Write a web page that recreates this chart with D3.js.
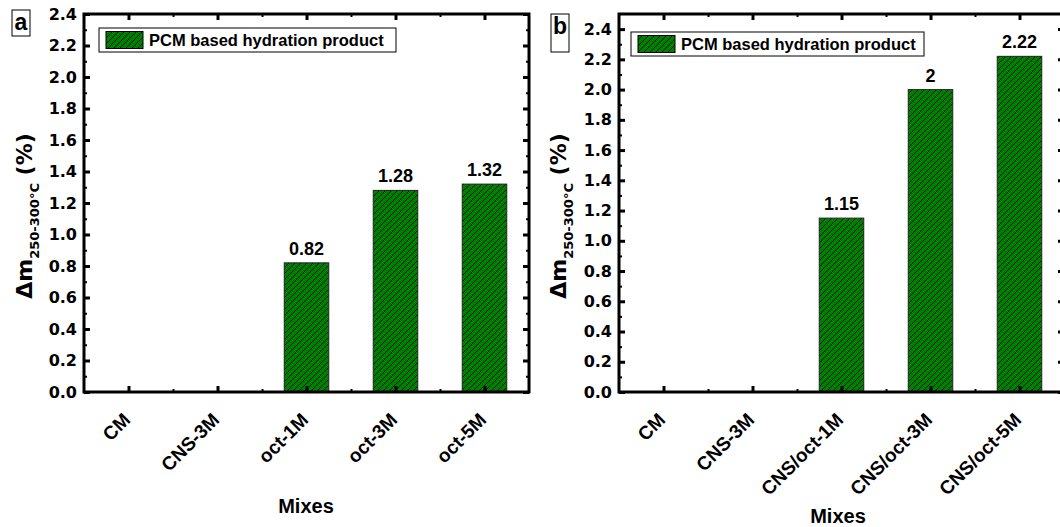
<!DOCTYPE html>
<html>
<head>
<meta charset="utf-8">
<script src="https://cdn.jsdelivr.net/npm/d3@7"></script>
<style>
  body { margin: 0; background: #fff; }
  svg { display: block; }
</style>
</head>
<body>
<div id="chart"></div>
<script>
// datos de cada panel
const mixesA = ["CM", "CNS-3M", "oct-1M", "oct-3M", "oct-5M"];
const valuesA = [0, 0, 0.82, 1.28, 1.32];
const barLabelsA = ["", "", "0.82", "1.28", "1.32"];

const mixesB = ["CM", "CNS-3M", "CNS/oct-1M", "CNS/oct-3M", "CNS/oct-5M"];
const valuesB = [0, 0, 1.15, 2, 2.22];
const barLabelsB = ["", "", "1.15", "2", "2.22"];

const yTickValues = [0, 0.2, 0.4, 0.6, 0.8, 1.0, 1.2, 1.4, 1.6, 1.8, 2.0, 2.2, 2.4];
const yTickLabels = ["0.0", "0.2", "0.4", "0.6", "0.8", "1.0", "1.2", "1.4", "1.6", "1.8", "2.0", "2.2", "2.4"];
const yMinorValues = [0.1, 0.3, 0.5, 0.7, 0.9, 1.1, 1.3, 1.5, 1.7, 1.9, 2.1, 2.3];

const seriesName = "PCM based hydration product";
const xTitle = "Mixes";

const arial = "'Liberation Sans', Arial, sans-serif";
const dejavu = "'DejaVu Sans', sans-serif";

let svg = d3.select("#chart").append("svg")
    .attr("width", 1060)
    .attr("height", 527);

// patron rayado de las barras
let pat = svg.append("defs").append("pattern")
    .attr("id", "hatch")
    .attr("patternUnits", "userSpaceOnUse")
    .attr("width", 6)
    .attr("height", 6);
pat.append("rect").attr("width", 6).attr("height", 6).attr("fill", "#007f00");
pat.append("path")
    .attr("d", "M-1,1 l2,-2 M0,6 l6,-6 M5,7 l2,-2")
    .attr("stroke", "#000")
    .attr("stroke-width", 0.8);

function drawPanel(p) {
    let x = d3.scaleBand().domain(p.mixes).range([p.x0, p.x1])
        .paddingInner(0.5).paddingOuter(0.25);
    let y = d3.scaleLinear().domain([0, p.yMax]).range([p.y1, p.y0]);
    let g = svg.append("g");
    let bw = x.bandwidth();
    let rows = p.values.map((v, i) => ({mix: p.mixes[i], v: v, label: p.labels[i]}));

    // barras
    g.selectAll(".bar")
        .data(rows.filter(d => d.v > 0))
        .enter().append("rect")
        .attr("x", d => x(d.mix))
        .attr("y", d => y(d.v))
        .attr("width", bw)
        .attr("height", d => y(0) - y(d.v))
        .attr("fill", "url(#hatch)")
        .attr("stroke", "#222")
        .attr("stroke-width", 1);

    // etiquetas de valor
    g.selectAll(".vlabel")
        .data(rows.filter(d => d.label !== ""))
        .enter().append("text")
        .attr("x", d => x(d.mix) + bw / 2)
        .attr("y", d => y(d.v) - 8)
        .attr("text-anchor", "middle")
        .style("font", "bold 18px " + arial)
        .text(d => d.label);

    // eje y izquierdo
    let left = g.append("g")
        .attr("transform", "translate(" + p.x0 + ",0)")
        .call(d3.axisLeft(y).tickValues(yTickValues).tickSize(-6).tickPadding(7)
            .tickFormat((d, i) => yTickLabels[i]));
    left.selectAll("text").style("font", "bold 16px " + dejavu).attr("fill", "#000");
    left.selectAll(".tick line").attr("stroke-width", 3);
    g.append("g")
        .attr("transform", "translate(" + p.x0 + ",0)")
        .call(d3.axisLeft(y).tickValues(yMinorValues).tickSize(-3).tickFormat(""))
        .selectAll(".tick line").attr("stroke-width", 2);

    // eje y derecho (solo marcas)
    g.append("g")
        .attr("transform", "translate(" + p.x1 + ",0)")
        .call(d3.axisRight(y).tickValues(yTickValues).tickSize(-6).tickFormat(""))
        .selectAll(".tick line").attr("stroke-width", 3);
    g.append("g")
        .attr("transform", "translate(" + p.x1 + ",0)")
        .call(d3.axisRight(y).tickValues(yMinorValues).tickSize(-3).tickFormat(""))
        .selectAll(".tick line").attr("stroke-width", 2);

    // ejes x abajo y arriba
    let centers = p.mixes.map(m => x(m) + bw / 2);
    let minors = centers.slice(1).map((c, i) => (c + centers[i]) / 2);
    let xt = d3.scaleLinear().domain([p.x0, p.x1]).range([p.x0, p.x1]);
    [[p.y1, d3.axisBottom], [p.y0, d3.axisTop]].forEach(function(a) {
        g.append("g").attr("transform", "translate(0," + a[0] + ")")
            .call(a[1](xt).tickValues(centers).tickSize(-6).tickFormat(""))
            .selectAll(".tick line").attr("stroke-width", 3);
        g.append("g").attr("transform", "translate(0," + a[0] + ")")
            .call(a[1](xt).tickValues(minors).tickSize(-3).tickFormat(""))
            .selectAll(".tick line").attr("stroke-width", 2);
    });

    g.selectAll(".domain").remove();
    g.selectAll(".tick line").attr("stroke", "#000");

    // marco
    g.append("rect")
        .attr("x", p.x0).attr("y", p.y0)
        .attr("width", p.x1 - p.x0).attr("height", p.y1 - p.y0)
        .attr("fill", "none").attr("stroke", "#000").attr("stroke-width", 3);

    // etiquetas x giradas
    g.selectAll(".xlabel")
        .data(p.mixes)
        .enter().append("text")
        .attr("transform", d => "translate(" + (x(d) + bw / 2 + 3) + "," + 421 + ") rotate(-45)")
        .attr("text-anchor", "end")
        .style("font", "bold 19px " + arial)
        .text(d => d);

    g.append("text")
        .attr("x", p.xTitleX).attr("y", p.xTitleY)
        .attr("text-anchor", "middle")
        .style("font", "bold 20px " + arial)
        .text(xTitle);

    // titulo eje y
    let yt = g.append("text")
        .attr("transform", "translate(" + p.yTitleX + ",216) rotate(-90)")
        .attr("text-anchor", "middle")
        .style("font", "bold 22px " + dejavu);
    yt.append("tspan").text("\u0394m");
    yt.append("tspan").attr("dy", 7).style("font-size", "13px").text("250-300\u00b0C");
    yt.append("tspan").attr("dy", -7).text(" (%)");

    // leyenda
    let lg = g.append("g");
    lg.append("rect")
        .attr("x", p.leg[0]).attr("y", p.leg[1]).attr("width", p.leg[2]).attr("height", 24)
        .attr("fill", "#fff").attr("stroke", "#000").attr("stroke-width", 1);
    lg.append("rect")
        .attr("x", p.leg[0] + 7).attr("y", p.leg[1] + 3.5).attr("width", 37).attr("height", 17)
        .attr("fill", "url(#hatch)").attr("stroke", "#000").attr("stroke-width", 1);
    lg.append("text")
        .attr("x", p.leg[0] + 50).attr("y", p.leg[1] + 18)
        .style("font", "bold 16.5px " + arial)
        .text(seriesName);

    // letra del panel
    g.append("rect")
        .attr("x", p.tag[0]).attr("y", p.tag[1]).attr("width", 18).attr("height", p.tag[2])
        .attr("fill", "#fff").attr("stroke", "#000").attr("stroke-width", 1);
    g.append("text")
        .attr("x", p.tag[0] + 9).attr("y", p.tag[1] + 20)
        .attr("text-anchor", "middle")
        .style("font", "bold 23px " + arial)
        .text(p.name);
}

drawPanel({
    name: "a", mixes: mixesA, values: valuesA, labels: barLabelsA,
    x0: 84, x1: 529, y0: 14, y1: 392, yMax: 2.4,
    xTitleX: 306, xTitleY: 513, yTitleX: 32,
    leg: [99, 28, 297], tag: [12, 10, 26]
});
drawPanel({
    name: "b", mixes: mixesB, values: valuesB, labels: barLabelsB,
    x0: 619, x1: 1064, y0: 14, y1: 392, yMax: 2.5,
    xTitleX: 838, xTitleY: 523, yTitleX: 566,
    leg: [631, 32, 293], tag: [551, 14, 38]
});
</script>
</body>
</html>
